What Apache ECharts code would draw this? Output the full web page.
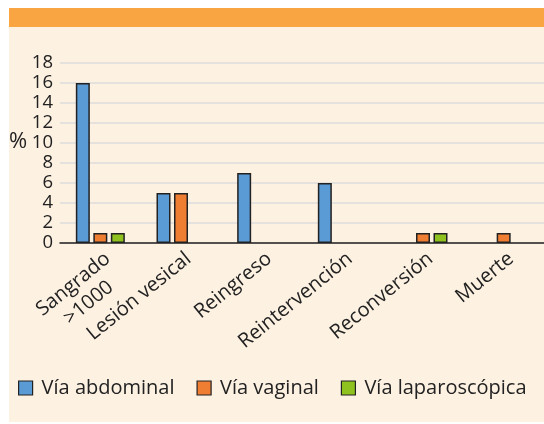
<!DOCTYPE html>
<html>
<head>
<meta charset="utf-8">
<script src="https://cdn.jsdelivr.net/npm/echarts@6/dist/echarts.min.js"></script>
<style>
  html, body { margin: 0; padding: 0; background: #ffffff; }
  #chart { width: 544px; height: 424px; }
</style>
</head>
<body>
<div id="chart"></div>
<script>
// categorias del eje x
var categorias = ['Sangrado\n>1000   ', 'Lesión vesical', 'Reingreso', 'Reintervención', 'Reconversión', 'Muerte'];
// valores (%) por via de abordaje
var viaAbdominal = [16, 5, 7, 6, null, null];
var viaVaginal = [1, 5, null, null, 1, 1];
var viaLaparoscopica = [1, null, null, null, 1, null];
var nombresSeries = ['Vía abdominal', 'Vía vaginal', 'Vía laparoscópica'];
var colores = ['#5b9bd5', '#ef7d32', '#8fc21f'];

var fuente = 'Open Sans';

var chart = echarts.init(document.getElementById('chart'));

function serie(nombre, datos, color) {
    return {
        name : nombre,
        type : 'bar',
        data : datos,
        barWidth : 14,
        barGap : '25%',
        itemStyle : {
            color : color,
            borderColor : '#222222',
            borderWidth : 1.5
        }
    };
}

var option = {
    backgroundColor : '#ffffff',
    color : colores,
    textStyle : {
        fontFamily : fuente
    },
    graphic : [ {
        type : 'rect',
        z : -10,
        shape : { x : 9, y : 27, width : 535, height : 395 },
        style : { fill : '#fdf1e2' }
    }, {
        type : 'rect',
        z : -10,
        shape : { x : 9, y : 8, width : 535, height : 19 },
        style : { fill : '#f9a541' }
    }, {
        type : 'text',
        left : 9,
        top : 131,
        style : {
            text : '%',
            font : '22px ' + fuente,
            fill : '#222222'
        }
    } ],
    legend : {
        data : nombresSeries,
        left : 18,
        top : 378,
        padding : 0,
        itemWidth : 14,
        itemHeight : 14,
        itemGap : 22,
        icon : 'rect',
        itemStyle : {
            borderColor : '#222222',
            borderWidth : 1.2
        },
        textStyle : {
            fontFamily : fuente,
            fontSize : 20,
            color : '#222222',
            padding : [0, 0, 0, 4]
        }
    },
    grid : {
        left : 60,
        right : -1,
        top : 63,
        bottom : 181,
        containLabel : false
    },
    xAxis : {
        type : 'category',
        data : categorias,
        axisLine : {
            lineStyle : { color : '#222222', width : 1.5 }
        },
        axisTick : { show : false },
        axisLabel : {
            rotate : 39,
            margin : 4,
            interval : 0,
            fontFamily : fuente,
            fontSize : 20,
            color : '#222222',
            lineHeight : 24,
            align : 'right',
            verticalAlign : 'top'
        }
    },
    yAxis : {
        type : 'value',
        min : 0,
        max : 18,
        interval : 2,
        axisLine : { show : false },
        axisTick : { show : false },
        axisLabel : {
            margin : 7,
            fontFamily : fuente,
            fontSize : 18.5,
            color : '#222222'
        },
        splitLine : {
            lineStyle : { color : '#dcdcdc', width : 1.5 }
        }
    },
    series : [
        serie(nombresSeries[0], viaAbdominal, colores[0]),
        serie(nombresSeries[1], viaVaginal, colores[1]),
        serie(nombresSeries[2], viaLaparoscopica, colores[2])
    ]
};

chart.setOption(option);
</script>
</body>
</html>
